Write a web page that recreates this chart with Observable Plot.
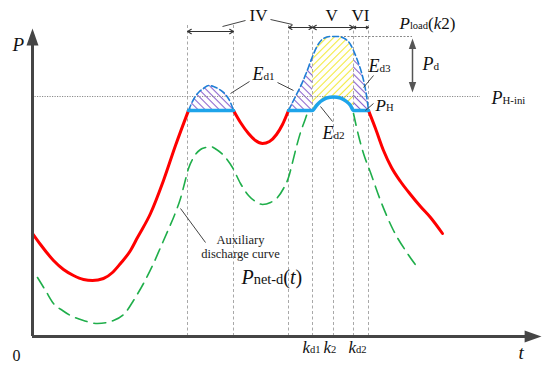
<!DOCTYPE html>
<html>
<head>
<meta charset="utf-8">
<script src="https://cdn.jsdelivr.net/npm/d3@7"></script>
<script src="https://cdn.jsdelivr.net/npm/@observablehq/plot@0.6"></script>
<style>
  html, body { margin: 0; padding: 0; background: #fff; }
  svg text { font-family: "Liberation Serif", "Times New Roman", serif; }
</style>
</head>
<body>
<div id="chart"></div>
<script>
// ---- Values read from the schematic (t = time units, P = power units) ----
const PH = 226;        // P_H level
const PHini = 240;     // P_H-ini level
const Pload = 300;     // P_load(k2)

// Net load curve (red), three visible segments
const netLoadA = [[0,103],[8,92],[21,76],[31,67],[41,61],[51,57],[60,56],[71,58],[80,64],[88,73],[98,86],[105,99],[118,123],[131,156],[143,191],[156,226]];
const netLoadB = [[201,226],[208,214],[216,203],[223,196],[230,193],[237,195],[244,202],[250,212],[256,226]];
const netLoadC = [[336,226],[343,208],[351,186],[359,169],[368,155],[378,142],[388,130],[398,119],[410,103]];

// P_H line (blue solid)
const pHFlat1 = [[156,226],[201,226]];
const pHCurve2 = [[256,226],[280,226],[284,231],[288,235],[294,238.5],[301,239.5],[308,238.5],[314,235],[318,231],[321,226],[336,226]];

// Load curve above P_H (blue dashed)
const loadHump1 = [[156,226],[161,237],[166,244],[171,248],[176,251],[181,250],[187,247],[193,242],[198,234],[201,226]];
const loadHump2 = [[256,226],[262,238],[268,250],[274,264],[280,280],[285,291],[291,298],[298,300],[305,300],[312,298],[318,292],[321,286],[325,276],[329,264],[332,252],[334,241],[336,226]];

// Auxiliary discharge curve (green dashed)
const auxA = [[5,59],[13,46],[21,33],[30,26],[38,21],[51,16],[65,13],[81,16],[93,24],[101,36],[111,53],[121,73],[128,89],[135,105],[143,124],[148,138],[152,153],[156,168],[161,179],[168,187],[173,189],[178,190],[184,187],[193,179],[200,169],[208,153],[216,141],[223,135],[230,132],[238,134],[245,139],[251,148],[256,159],[260,174],[264,190],[268,204],[273,218],[275,224]];
const auxB = [[321,223],[326,201],[331,183],[338,164],[348,136],[361,106],[375,83],[385,69]];

// Time marks
const kd1 = 280, k2 = 301, kd2 = 321;
const stageLines = [155, 201, 256, 280, 321, 336];
const stageTop = 312;

// Stage spans [start, end, level]
const spanStart = [155, 256, 280, 321];
const spanEnd   = [201, 280, 321, 336];
const spanLevel = [305, 309, 309, 309];

// Leader lines [t1, P1, t2, P2]
const leaders = [
  [190,310,213,316],[238,317,260,312],
  [198,243,217,255],[245,254,261,246],
  [331,249,341,261],[333,226,341,233],
  [288,230,300,215],[148,128,173,94]
];

// Labels: markup *italic* and _subscript_
const labelText = ["*P*","0","*t*","IV","V","VI","*P*_load_(*k*2)","*P*_d_","*P*_H-ini_","*E*_d1_","*E*_d3_","*P*_H_","*E*_d2_","*P*_net-d_(*t*)","*k*_d1_","*k*_2_","*k*_d2_"];
const labelT    = [-20,-20,486,217,293,319,367,390,459,220,336,343,290,209,270,291,316];
const labelP    = [286,-24,-22,316,316,316,308,267,233,257,265,226,198,53,-16,-16,-16];
const labelSize = [19,16,19,17,17,17,17,18,18,18,18,17,18,20,17,17,17];
const subScale  = [0.62,0.62,0.62,0.62,0.62,0.62,0.62,0.62,0.6,0.62,0.62,0.62,0.62,0.72,0.62,0.62,0.62];

const noteLines = ["Auxiliary", "discharge curve"];
const noteT = 208, noteP = [93, 79];

// ---- Build ----
const serif = "Liberation Serif";
const labels = labelText.map((s, i) => ({s, t: labelT[i], P: labelP[i], size: labelSize[i], sub: subScale[i]}));
const spans = spanStart.flatMap((a, i) => {
  const m = (a + spanEnd[i]) / 2;
  return [{x1: m, x2: a, y: spanLevel[i]}, {x1: m, x2: spanEnd[i], y: spanLevel[i]}];
});
const X = d => d[0], Y = d => d[1];

function tri(dir) {
  return {draw(ctx, size) {
    const r = Math.sqrt(size / Math.PI), h = 2.6 * r, w = 0.92 * r;
    if (dir === "up") { ctx.moveTo(0,0); ctx.lineTo(w,h); ctx.lineTo(-w,h); }
    else if (dir === "down") { ctx.moveTo(0,0); ctx.lineTo(w,-h); ctx.lineTo(-w,-h); }
    else { ctx.moveTo(0,0); ctx.lineTo(-h,w); ctx.lineTo(-h,-w); }
    ctx.closePath();
  }};
}

const curve = "monotone-x";
const axisColor = "#454545";

const svg = Plot.plot({
  width: 550, height: 367,
  marginTop: 0, marginRight: 0, marginBottom: 0, marginLeft: 0,
  x: {domain: [-32, 518], axis: null},
  y: {domain: [-31, 336], axis: null},
  style: {background: "white"},
  marks: [
    // hatched energy areas
    Plot.areaY(loadHump1, {x: X, y1: PH, y2: Y, fill: "url(#hatchPurple)", curve}),
    Plot.areaY(loadHump2.filter(d => d[0] <= kd1), {x: X, y1: PH, y2: Y, fill: "url(#hatchPurple)", curve}),
    Plot.areaY(loadHump2.filter(d => d[0] >= kd1 && d[0] <= kd2), {x: X, y1: PH, y2: Y, fill: "url(#hatchYellow)", curve}),
    Plot.areaY(pHCurve2.filter(d => d[0] >= kd1 && d[0] <= kd2), {x: X, y1: PH, y2: Y, fill: "white", curve}),
    Plot.areaY(loadHump2.filter(d => d[0] >= kd2), {x: X, y1: PH, y2: Y, fill: "url(#hatchPurple)", curve}),
    // guide lines
    Plot.ruleX(stageLines, {y1: 0, y2: stageTop, stroke: "#a8a8a8", strokeWidth: 1, strokeDasharray: "3,2.5"}),
    Plot.ruleX([k2], {y1: 0, y2: 239, stroke: "#a8a8a8", strokeWidth: 1, strokeDasharray: "3,2.5"}),
    Plot.ruleY([PHini], {x1: 0, x2: 448, stroke: "#8a8a8a", strokeWidth: 1, strokeDasharray: "1.2,1.3"}),
    Plot.ruleY([Pload], {x1: 305, x2: 380, stroke: "#8a8a8a", strokeWidth: 1, strokeDasharray: "2,1.5"}),
    // auxiliary discharge curve
    Plot.line(auxA, {x: X, y: Y, stroke: "#1fae4a", strokeWidth: 1.6, strokeDasharray: "12,7", curve}),
    Plot.line(auxB, {x: X, y: Y, stroke: "#1fae4a", strokeWidth: 1.6, strokeDasharray: "12,7", curve}),
    // net load (red)
    Plot.line(netLoadA, {x: X, y: Y, stroke: "#ff0000", strokeWidth: 3, curve}),
    Plot.line(netLoadB, {x: X, y: Y, stroke: "#ff0000", strokeWidth: 3, curve}),
    Plot.line(netLoadC, {x: X, y: Y, stroke: "#ff0000", strokeWidth: 3, curve}),
    // load above P_H (blue dashed)
    Plot.line(loadHump1, {x: X, y: Y, stroke: "#1f7fd6", strokeWidth: 1.6, strokeDasharray: "6,3", curve}),
    Plot.line(loadHump2, {x: X, y: Y, stroke: "#1f7fd6", strokeWidth: 1.6, strokeDasharray: "6,3", curve}),
    // P_H (blue solid)
    Plot.line(pHFlat1, {x: X, y: Y, stroke: "#1ea4ea", strokeWidth: 3.5}),
    Plot.line(pHCurve2, {x: X, y: Y, stroke: "#1ea4ea", strokeWidth: 3.5, curve}),
    // axes
    Plot.ruleX([0], {y1: 0, y2: 295, stroke: axisColor, strokeWidth: 3}),
    Plot.ruleY([0], {x1: 0, x2: 495, stroke: axisColor, strokeWidth: 3}),
    Plot.dot([[0, 308]], {x: X, y: Y, symbol: tri("up"), r: 6.5, fill: axisColor, stroke: "none"}),
    Plot.dot([[509, 0]], {x: X, y: Y, symbol: tri("right"), r: 6.5, fill: axisColor, stroke: "none"}),
    // stage arrows
    Plot.arrow(spans, {x1: "x1", y1: "y", x2: "x2", y2: "y", stroke: "#333", strokeWidth: 1.1, headLength: 6}),
    // P_d arrow
    Plot.ruleX([380], {y1: 250, y2: 292, stroke: "#555", strokeWidth: 1.5}),
    Plot.dot([[380, 298]], {x: X, y: Y, symbol: tri("up"), r: 4, fill: "#555", stroke: "none"}),
    Plot.dot([[380, 244]], {x: X, y: Y, symbol: tri("down"), r: 4, fill: "#555", stroke: "none"}),
    // leader lines
    Plot.link(leaders, {x1: d => d[0], y1: d => d[1], x2: d => d[2], y2: d => d[3], stroke: "#444", strokeWidth: 1}),
    // labels
    Plot.text(labels, {x: "t", y: "P", text: d => d.s.replace(/[*_]/g, ""), fontSize: "size", fontFamily: serif, textAnchor: "start", lineAnchor: "bottom", fill: "#111"}),
    Plot.text(noteLines, {x: noteT, y: (d, i) => noteP[i], text: d => d, fontSize: 12.5, fontFamily: serif, textAnchor: "middle", lineAnchor: "bottom", fill: "#222"})
  ]
});

// hatch patterns
const defs = d3.select(svg).insert("defs", ":first-child");
function hatch(id, color, angle) {
  const p = defs.append("pattern").attr("id", id).attr("patternUnits", "userSpaceOnUse")
    .attr("width", 5).attr("height", 5).attr("patternTransform", `rotate(${angle})`);
  p.append("line").attr("x1", 2.5).attr("y1", 0).attr("x2", 2.5).attr("y2", 5)
    .attr("stroke", color).attr("stroke-width", 1.1);
}
hatch("hatchPurple", "#8a62cc", -45);
hatch("hatchYellow", "#f2ea3c", 45);

// rich text (italic letters, small subscripts) on the first text mark
d3.select(svg).selectAll("text").attr("font-family", "'Liberation Serif', serif");
const richGroup = d3.select(svg).selectAll('g[aria-label="text"]').nodes()[0];
d3.select(richGroup).selectAll("text").each(function(_, i) {
  const el = d3.select(this);
  el.text(null);
  for (const m of labels[i].s.matchAll(/\*([^*]+)\*|_([^_]+)_|([^*_]+)/g)) {
    const ts = el.append("tspan");
    if (m[1]) ts.attr("font-style", "italic").text(m[1]);
    else if (m[2]) ts.attr("font-size", `${labels[i].sub}em`).text(m[2]);
    else ts.text(m[3]);
  }
});

document.getElementById("chart").appendChild(svg);
</script>
</body>
</html>
